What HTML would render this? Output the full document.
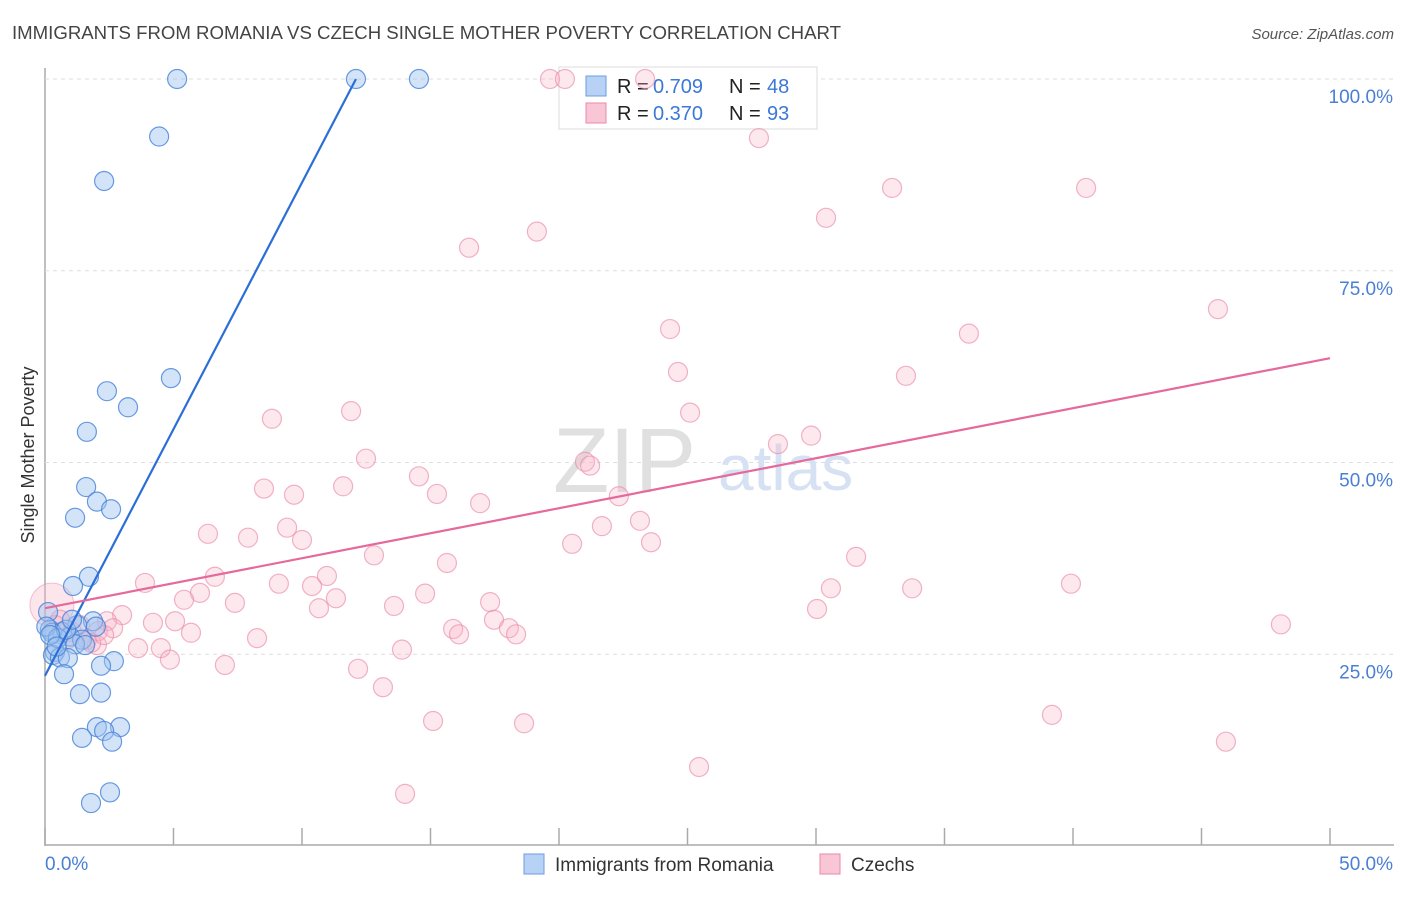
<!DOCTYPE html>
<html><head><meta charset="utf-8"><style>
body{margin:0;background:#fff;font-family:"Liberation Sans",sans-serif;}
svg text{font-family:"Liberation Sans",sans-serif;}
</style></head><body>
<svg id="chart" width="1406" height="892" xmlns="http://www.w3.org/2000/svg">
<text x="12" y="39" font-size="18" fill="#444" textLength="829" lengthAdjust="spacingAndGlyphs">IMMIGRANTS FROM ROMANIA VS CZECH SINGLE MOTHER POVERTY CORRELATION CHART</text>
<text x="1394" y="39" font-size="15" fill="#555" text-anchor="end" font-style="italic">Source: ZipAtlas.com</text>
<text transform="translate(34,455) rotate(-90)" font-size="18" fill="#333" text-anchor="middle">Single Mother Poverty</text>
<g id="grid"></g>
<text x="553" y="492" font-size="92" fill="#e0e0e0" font-family="Liberation Serif">ZIP</text>
<text x="718" y="490" font-size="64" fill="#d6e2f3">atlas</text>
<g>
<rect x="559" y="67" width="258" height="62" fill="rgba(255,255,255,0.9)" stroke="#ddd"/>
<rect x="586" y="76" width="20" height="20" fill="#b8d2f5" stroke="#6a9de0"/>
<text x="617" y="93" font-size="20" fill="#222">R = </text><text x="653" y="93" font-size="20" fill="#3b78d8">0.709</text>
<text x="729" y="93" font-size="20" fill="#222">N = </text><text x="767" y="93" font-size="20" fill="#3b78d8">48</text>
<rect x="586" y="103" width="20" height="20" fill="#f9c6d6" stroke="#e98aaa"/>
<text x="617" y="120" font-size="20" fill="#222">R = </text><text x="653" y="120" font-size="20" fill="#3b78d8">0.370</text>
<text x="729" y="120" font-size="20" fill="#222">N = </text><text x="767" y="120" font-size="20" fill="#3b78d8">93</text>
</g>
<g id="pts"></g>
<g id="lines"></g>
<g>
<rect x="524" y="854" width="20" height="20" fill="#b8d2f5" stroke="#6a9de0"/>
<text x="555" y="871" font-size="19" fill="#333">Immigrants from Romania</text>
<rect x="820" y="854" width="20" height="20" fill="#f9c6d6" stroke="#e98aaa"/>
<text x="851" y="871" font-size="19" fill="#333">Czechs</text>
</g>
</svg>
<script>
const xTicks=[0,5,10,15,20,25,30,35,40,45,50];
const yTicks=[25,50,75,100];
const yTickLabels=["25.0%","50.0%","75.0%","100.0%"];
const xLabels=["0.0%","50.0%"];
const blueX=[5.14,12.10,14.55,4.44,2.30,4.90,2.41,3.23,1.63,1.60,2.02,2.57,1.17,1.71,1.09,0.12,1.87,1.25,1.98,0.19,0.66,0.27,0.97,1.44,1.17,1.56,0.39,0.31,0.58,0.89,2.68,2.18,0.74,1.36,2.18,2.02,2.92,2.30,1.44,2.61,2.53,1.79,0.05,0.50,0.82,1.05,0.20,0.45];
const blueY=[100,100,100,92.5,86.7,61.0,59.3,57.2,54.0,46.8,44.9,43.9,42.8,35.1,33.9,30.5,29.3,28.8,28.6,28.2,27.9,27.8,27.3,26.9,26.3,26.2,25.3,24.9,24.6,24.5,24.1,23.5,22.4,19.8,20.0,15.5,15.5,15.0,14.1,13.6,7.0,5.6,28.6,27.1,28.2,29.5,27.5,26.0];
const pinkX=[19.65,20.23,23.35,27.78,32.96,40.51,30.39,19.14,16.50,45.64,24.32,35.95,24.63,33.50,11.91,25.10,8.83,28.52,29.81,12.49,21.01,21.21,14.55,8.52,11.60,9.69,15.25,16.93,22.33,9.42,6.34,23.15,21.67,10.00,7.90,23.58,20.51,12.80,31.56,15.64,6.61,3.89,10.97,39.92,9.10,10.39,30.58,33.74,6.03,7.39,5.41,11.32,14.79,13.58,17.32,30.04,10.66,3.00,5.06,4.20,17.47,2.41,15.88,18.05,48.09,16.11,18.33,5.68,2.06,2.65,2.02,8.25,3.62,4.51,13.89,4.86,7.00,12.18,13.15,15.10,18.64,39.18,45.95,25.45,14.01,1.05,1.63,0.58,1.36,0.9,1.8,2.3,0.4];
const pinkY=[100,100,100,92.3,85.8,85.8,81.9,80.1,78.0,70.0,67.4,66.8,61.8,61.3,56.7,56.5,55.7,52.4,53.5,50.5,50.1,49.6,48.2,46.6,46.9,45.8,45.9,44.7,45.6,41.5,40.7,42.4,41.7,39.9,40.2,39.6,39.4,37.9,37.7,36.9,35.1,34.3,35.2,34.2,34.2,33.9,33.6,33.6,33.0,31.7,32.1,32.3,32.9,31.3,31.8,30.9,31.0,30.1,29.3,29.1,29.5,29.3,28.3,28.4,28.9,27.6,27.6,27.8,28.0,28.4,26.2,27.1,25.8,25.8,25.6,24.3,23.6,23.1,20.7,16.3,16.0,17.1,13.6,10.3,6.8,27.9,26.9,29.5,28.8,27.0,26.5,27.5,28.8];
const blueLine=[0,22.2,12.1,100];
const pinkLine=[0,31.0,50,63.6];
const X=v=>45+v/50*1285;
const Y=v=>846-v/100*767;
const NS="http://www.w3.org/2000/svg";
function mk(tag,attrs,parent){const e=document.createElementNS(NS,tag);for(const k in attrs)e.setAttribute(k,attrs[k]);parent.appendChild(e);return e;}
const grid=document.getElementById('grid');
const ax=mk('line',{x1:45,y1:68,x2:45,y2:846,stroke:'#aaa','stroke-width':1.5},grid);


const bx=mk('line',{x1:45,y1:845,x2:1394,y2:845,stroke:'#aaa','stroke-width':1.5},grid);


yTicks.forEach((t,i)=>{
 const g=mk('line',{x1:45,y1:Y(t),x2:1394,y2:Y(t),stroke:'#ddd','stroke-dasharray':'4,4'},grid);
 
 
 const l=mk('text',{x:1393,y:Y(t)+24,'font-size':19,fill:'#4a7fd4','text-anchor':'end'},grid);
 l.textContent=yTickLabels[i];
 
 
});
xTicks.forEach(t=>{
 const k=mk('line',{x1:X(t),y1:828,x2:X(t),y2:845,stroke:'#aaa','stroke-width':1.5},grid);
 
 
});
const xl0=mk('text',{x:45,y:870,'font-size':19,fill:'#4a7fd4'},grid);xl0.textContent=xLabels[0];


const xl1=mk('text',{x:1393,y:870,'font-size':19,fill:'#4a7fd4','text-anchor':'end'},grid);xl1.textContent=xLabels[1];


const pts=document.getElementById('pts');
const big=mk('circle',{cx:X(0.27),cy:Y(31.4),r:22,fill:'rgba(248,180,200,0.35)',stroke:'rgba(233,138,170,0.5)'},pts);


pinkX.forEach((x,i)=>{
 const c=mk('circle',{cx:X(x),cy:Y(pinkY[i]),r:9.5,fill:'rgba(248,180,200,0.3)',stroke:'rgba(233,138,170,0.65)','stroke-width':1.2},pts);
 
 
});
blueX.forEach((x,i)=>{
 const c=mk('circle',{cx:X(x),cy:Y(blueY[i]),r:9.5,fill:'rgba(160,196,240,0.45)',stroke:'rgba(70,130,215,0.8)','stroke-width':1.2},pts);
 
 
});
const lines=document.getElementById('lines');
const bl=mk('line',{x1:X(blueLine[0]),y1:Y(blueLine[1]),x2:X(blueLine[2]),y2:Y(blueLine[3]),stroke:'#2b6fd6','stroke-width':2.2},lines);


const pl=mk('line',{x1:X(pinkLine[0]),y1:Y(pinkLine[1]),x2:X(pinkLine[2]),y2:Y(pinkLine[3]),stroke:'#e5699a','stroke-width':2.2},lines);


</script>
</body></html>
